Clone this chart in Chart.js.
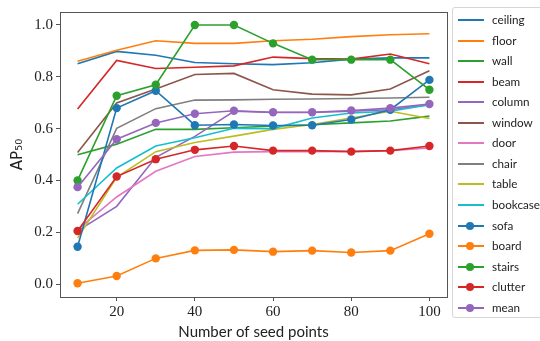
<!DOCTYPE html>
<html>
<head>
<meta charset="utf-8">
<script src="https://cdn.jsdelivr.net/npm/chart.js@4.4.0/dist/chart.umd.min.js"></script>
<style>
  html, body { margin: 0; padding: 0; background: #fff; }
  #wrap { position: relative; width: 540px; height: 341px; }
  #legend {
    position: absolute; left: 452px; top: 7px; width: 100px; height: 311px;
    border: 1px solid #d6d6d6; border-radius: 3px; box-sizing: border-box;
    font-family: Lato, "DejaVu Sans", sans-serif; font-size: 11.7px; color: #222;
  }
  .item { position: absolute; left: 0; height: 16px; width: 100px; }
  .item .ln { position: absolute; left: 5px; top: 7px; width: 26px; height: 2px; }
  .item .dot { position: absolute; left: 13px; top: 4px; width: 8px; height: 8px; border-radius: 50%; }
  .item .tx { position: absolute; left: 39px; top: -1px; line-height: 16px; }
</style>
</head>
<body>
<div id="wrap">
  <canvas id="chart" width="540" height="341"></canvas>
  <div id="legend"></div>
</div>
<script>
// titik seed
const seedPoints = [10, 20, 30, 40, 50, 60, 70, 80, 90, 100];
const xTicks = [20, 40, 60, 80, 100];
const yTicks = [0.0, 0.2, 0.4, 0.6, 0.8, 1.0];

// AP50 per kelas
const ceiling  = [0.850, 0.898, 0.883, 0.855, 0.850, 0.847, 0.854, 0.868, 0.873, 0.873];
const floor    = [0.860, 0.902, 0.939, 0.929, 0.929, 0.939, 0.945, 0.955, 0.962, 0.966];
const wall     = [0.499, 0.540, 0.597, 0.597, 0.603, 0.610, 0.615, 0.622, 0.629, 0.648];
const beam     = [0.676, 0.863, 0.832, 0.837, 0.842, 0.876, 0.870, 0.868, 0.888, 0.850];
const column   = [0.205, 0.300, 0.489, 0.570, 0.667, 0.662, 0.662, 0.667, 0.673, 0.692];
const windowC  = [0.508, 0.699, 0.753, 0.809, 0.813, 0.750, 0.733, 0.730, 0.753, 0.823];
const door     = [0.210, 0.336, 0.435, 0.492, 0.509, 0.511, 0.511, 0.512, 0.515, 0.525];
const chair    = [0.272, 0.601, 0.677, 0.710, 0.711, 0.713, 0.714, 0.716, 0.718, 0.721];
const table    = [0.177, 0.412, 0.511, 0.546, 0.571, 0.597, 0.616, 0.641, 0.667, 0.639];
const bookcase = [0.308, 0.448, 0.533, 0.565, 0.601, 0.600, 0.641, 0.660, 0.667, 0.692];
const sofa     = [0.144, 0.679, 0.746, 0.613, 0.616, 0.612, 0.613, 0.635, 0.673, 0.788];
const board    = [0.003, 0.031, 0.099, 0.130, 0.132, 0.125, 0.129, 0.122, 0.129, 0.194];
const stairs   = [0.400, 0.727, 0.769, 1.000, 1.000, 0.929, 0.866, 0.866, 0.866, 0.750];
const clutter  = [0.205, 0.415, 0.482, 0.518, 0.533, 0.515, 0.515, 0.511, 0.515, 0.533];
const mean     = [0.374, 0.559, 0.622, 0.657, 0.669, 0.663, 0.663, 0.670, 0.679, 0.695];

const seriesNames = ["ceiling", "floor", "wall", "beam", "column", "window", "door", "chair",
  "table", "bookcase", "sofa", "board", "stairs", "clutter", "mean"];
const seriesValues = [ceiling, floor, wall, beam, column, windowC, door, chair,
  table, bookcase, sofa, board, stairs, clutter, mean];
const withMarker = ["sofa", "board", "stairs", "clutter", "mean"];

const palette = ["#1f77b4", "#ff7f0e", "#2ca02c", "#d62728", "#9467bd",
  "#8c564b", "#e377c2", "#7f7f7f", "#bcbd22", "#17becf"];

const datasets = seriesNames.map((name, i) => {
  const color = palette[i % 10];
  const marker = withMarker.includes(name);
  return {
    label: name,
    data: seedPoints.map((x, j) => ({ x: x, y: seriesValues[i][j] })),
    borderColor: color,
    backgroundColor: color,
    borderWidth: 1.6,
    pointRadius: marker ? 4.2 : 0,
    pointBorderWidth: 0,
    pointHoverRadius: marker ? 4.2 : 0,
    tension: 0,
    fill: false,
    order: seriesNames.length - i, // yang terakhir digambar paling atas
  };
});

// garis tepi penuh di sekitar area plot
const frame = {
  id: "frame",
  afterDraw(chart) {
    const a = chart.chartArea;
    const ctx = chart.ctx;
    ctx.save();
    ctx.strokeStyle = "#555";
    ctx.lineWidth = 1;
    ctx.strokeRect(Math.round(a.left) + 0.5, Math.round(a.top) + 0.5,
      Math.round(a.right - a.left), Math.round(a.bottom - a.top));
    ctx.restore();
  },
};

const tickFont = { family: "'Liberation Serif', 'DejaVu Serif', serif", size: 15 };
const labelFont = { family: "Lato, 'DejaVu Sans', sans-serif", size: 15 };

new Chart(document.getElementById("chart").getContext("2d"), {
  type: "line",
  data: { datasets: datasets },
  options: {
    responsive: false,
    animation: false,
    layout: { padding: { top: 10, right: 93, left: 0, bottom: 0 } },
    plugins: { legend: { display: false }, tooltip: { enabled: false } },
    scales: {
      x: {
        type: "linear",
        min: 5.5,
        max: 104.5,
        afterBuildTicks: (s) => { s.ticks = xTicks.map((v) => ({ value: v })); },
        afterFit: (s) => { s.height = 44; },
        ticks: { font: tickFont, color: "#222", padding: 2, maxRotation: 0 },
        grid: { drawOnChartArea: false, tickLength: 4, color: "#555" },
        border: { display: false },
        title: { display: true, text: "Number of seed points", font: labelFont, color: "#222", padding: 0 },
      },
      y: {
        min: -0.05,
        max: 1.05,
        afterBuildTicks: (s) => { s.ticks = yTicks.map((v) => ({ value: v })); },
        afterFit: (s) => { s.width = 60; },
        ticks: { font: tickFont, color: "#222", padding: 3, callback: (v) => Number(v).toFixed(1) },
        grid: { drawOnChartArea: false, tickLength: 4, color: "#555" },
        border: { display: false },
        title: { display: true, text: "AP₅₀", font: { family: "'DejaVu Sans', sans-serif", size: 15 }, color: "#222", padding: { top: 9, bottom: 0 } },
      },
    },
  },
  plugins: [frame],
});

// legenda HTML
const legend = document.getElementById("legend");
seriesNames.forEach((name, i) => {
  const color = palette[i % 10];
  const item = document.createElement("div");
  item.className = "item";
  item.style.top = (4 + i * 20.55) + "px";
  let html = '<div class="ln" style="background:' + color + '"></div>';
  if (withMarker.includes(name)) html += '<div class="dot" style="background:' + color + '"></div>';
  html += '<div class="tx">' + name + "</div>";
  item.innerHTML = html;
  legend.appendChild(item);
});
</script>
</body>
</html>
